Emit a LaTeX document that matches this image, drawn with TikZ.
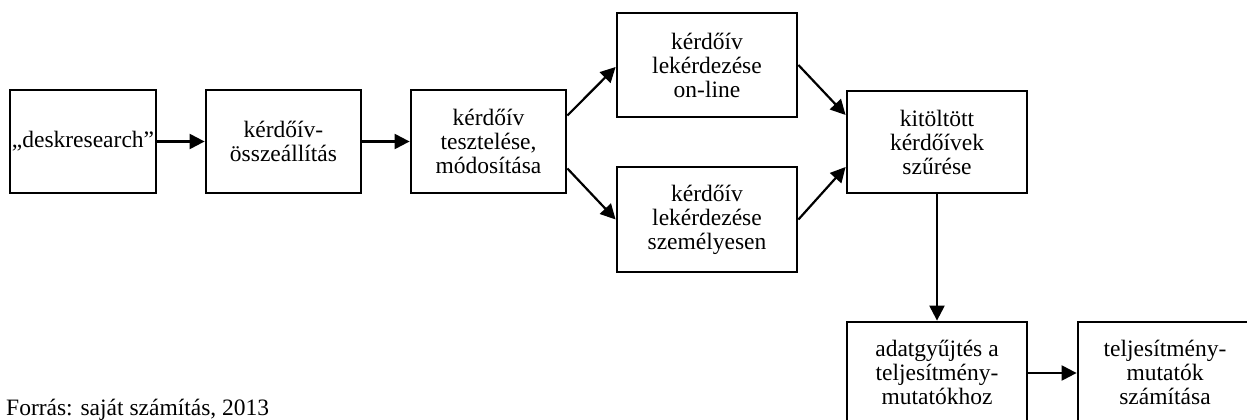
\documentclass[tikz,border=0pt]{standalone}
\usepackage{fontspec}
\setmainfont{Liberation Serif}
\usetikzlibrary{arrows.meta}
\tikzset{
  procbox/.style={draw=black, line width=2.8pt, align=center, inner sep=0pt,
    font=\fontsize{23.5}{24}\selectfont},
  flow/.style={draw=black, line width=2.2pt, -{Triangle[length=15pt,width=15pt]}},
}
\begin{document}
\begin{tikzpicture}[x=1pt,y=-1pt]
\useasboundingbox (0,0) rectangle (1247,420);
\clip (0,0) rectangle (1247,420);
\fill[white] (0,0) rectangle (1247,420);
\node[procbox, minimum width=146pt, minimum height=103pt] (b1) at (83,141.5) {„deskresearch”};
\node[procbox, minimum width=155pt, minimum height=103pt] (b2) at (283.5,141.5) {kérdőív-\\összeállítás};
\node[procbox, minimum width=155pt, minimum height=103pt] (b3) at (488.5,141.5) {kérdőív\\tesztelése,\\módosítása};
\node[procbox, minimum width=180pt, minimum height=104pt] (b4) at (707,65) {kérdőív\\lekérdezése\\on-line};
\node[procbox, minimum width=180pt, minimum height=105pt] (b5) at (707,219.5) {kérdőív\\lekérdezése\\személyesen};
\node[procbox, minimum width=180pt, minimum height=102pt] (b6) at (937,142) {kitöltött\\kérdőívek\\szűrése};
\node[procbox, minimum width=180pt, minimum height=118pt] (b7) at (937,381) {};
\node[font=\fontsize{23.5}{24}\selectfont, align=center] (t7) at (937,372) {adatgyűjtés a\\teljesítmény-\\mutatókhoz};
\node[procbox, minimum width=190pt, minimum height=118pt] (b8) at (1173,381) {};
\node[font=\fontsize{23.5}{24}\selectfont, align=center] (t8) at (1165,372) {teljesítmény-\\mutatók\\számítása};
\node[font=\fontsize{23.5}{24}\selectfont, anchor=base west, inner sep=0pt] (src) at (6,415) {Forrás: saját számítás, 2013};
\draw[flow] (b1) -- (b2);
\draw[flow] (b2) -- (b3);
\draw[flow] ([yshift=26pt]b3.east) -- ([yshift=-2pt]b4.west);
\draw[flow] ([yshift=-27pt]b3.east) -- (b5.west);
\draw[flow] (b4.east) -- ([yshift=27pt]b6.west);
\draw[flow] (b5.east) -- ([yshift=-25pt]b6.west);
\draw[flow] (b6.south) -- (b7.north);
\draw[flow] ([yshift=8pt]b7.east) -- ([yshift=8pt]b8.west);
\end{tikzpicture}
\end{document}
